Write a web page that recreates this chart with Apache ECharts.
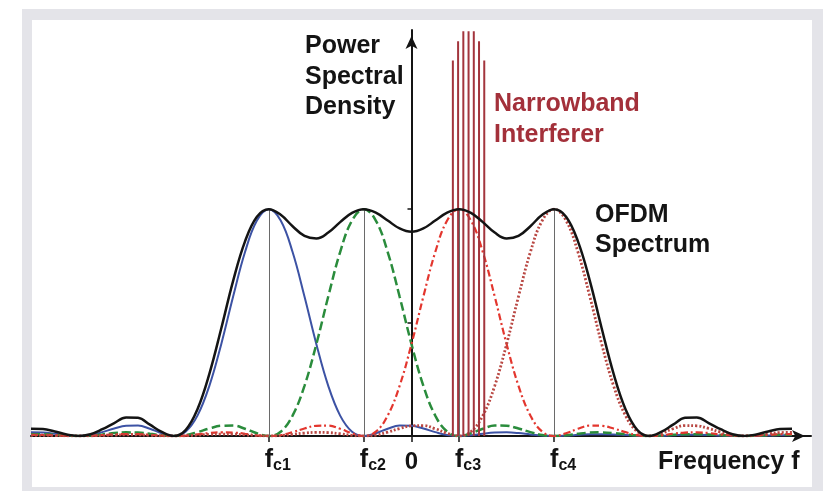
<!DOCTYPE html>
<html lang="en">
<head>
<meta charset="UTF-8">
<title>OFDM Spectrum</title>
<script src="https://cdn.jsdelivr.net/npm/echarts@6/dist/echarts.min.js"></script>
<style>
    * {
        padding: 0;
        margin: 0;
    }
    html, body {
        width: 823px;
        height: 491px;
        background: #fff;
    }
    #chart {
        width: 823px;
        height: 491px;
    }
</style>
</head>
<body>
<div id="chart"></div>
<script>
    // frequency, in units of the subcarrier spacing (0 = band centre)
    var freq = [-4, -3.875, -3.75, -3.625, -3.5, -3.375, -3.25, -3.125, -3, -2.875, -2.75, -2.625, -2.5,
        -2.375, -2.25, -2.125, -2, -1.875, -1.75, -1.625, -1.5, -1.375, -1.25, -1.125, -1, -0.875, -0.75,
        -0.625, -0.5, -0.375, -0.25, -0.125, 0, 0.125, 0.25, 0.375, 0.5, 0.625, 0.75, 0.875, 1, 1.125, 1.25,
        1.375, 1.5, 1.625, 1.75, 1.875, 2, 2.125, 2.25, 2.375, 2.5, 2.625, 2.75, 2.875, 3, 3.125, 3.25,
        3.375, 3.5, 3.625, 3.75, 3.875, 4];

    // power of each subcarrier (peak = 1)
    var sub1 = [0.016, 0.015, 0.010, 0.003, 0, 0.004, 0.017, 0.033, 0.045, 0.046, 0.032, 0.012, 0, 0.019,
        0.090, 0.221, 0.405, 0.615, 0.811, 0.950, 1, 0.950, 0.811, 0.615, 0.405, 0.221, 0.090, 0.019, 0,
        0.012, 0.032, 0.046, 0.045, 0.033, 0.017, 0.004, 0, 0.003, 0.010, 0.015, 0.016, 0.013, 0.007, 0.002,
        0, 0.002, 0.005, 0.008, 0.008, 0.007, 0.004, 0.001, 0, 0.001, 0.003, 0.005, 0.005, 0.004, 0.002,
        0.001, 0, 0.001, 0.002, 0.003, 0.003];
    var sub2 = [0.008, 0.008, 0.005, 0.002, 0, 0.002, 0.007, 0.013, 0.016, 0.015, 0.010, 0.003, 0, 0.004,
        0.017, 0.033, 0.045, 0.046, 0.032, 0.012, 0, 0.019, 0.090, 0.221, 0.405, 0.615, 0.811, 0.950, 1,
        0.950, 0.811, 0.615, 0.405, 0.221, 0.090, 0.019, 0, 0.012, 0.032, 0.046, 0.045, 0.033, 0.017, 0.004,
        0, 0.003, 0.010, 0.015, 0.016, 0.013, 0.007, 0.002, 0, 0.002, 0.005, 0.008, 0.008, 0.007, 0.004,
        0.001, 0, 0.001, 0.003, 0.005, 0.005];
    var sub3 = [0.005, 0.005, 0.003, 0.001, 0, 0.001, 0.004, 0.007, 0.008, 0.008, 0.005, 0.002, 0, 0.002,
        0.007, 0.013, 0.016, 0.015, 0.010, 0.003, 0, 0.004, 0.017, 0.033, 0.045, 0.046, 0.032, 0.012, 0,
        0.019, 0.090, 0.221, 0.405, 0.615, 0.811, 0.950, 1, 0.950, 0.811, 0.615, 0.405, 0.221, 0.090, 0.019,
        0, 0.012, 0.032, 0.046, 0.045, 0.033, 0.017, 0.004, 0, 0.003, 0.010, 0.015, 0.016, 0.013, 0.007,
        0.002, 0, 0.002, 0.005, 0.008, 0.008];
    var sub4 = [0.003, 0.003, 0.002, 0.001, 0, 0.001, 0.002, 0.004, 0.005, 0.005, 0.003, 0.001, 0, 0.001,
        0.004, 0.007, 0.008, 0.008, 0.005, 0.002, 0, 0.002, 0.007, 0.013, 0.016, 0.015, 0.010, 0.003, 0,
        0.004, 0.017, 0.033, 0.045, 0.046, 0.032, 0.012, 0, 0.019, 0.090, 0.221, 0.405, 0.615, 0.811, 0.950,
        1, 0.950, 0.811, 0.615, 0.405, 0.221, 0.090, 0.019, 0, 0.012, 0.032, 0.046, 0.045, 0.033, 0.017,
        0.004, 0, 0.003, 0.010, 0.015, 0.016];
    // total OFDM spectrum
    var ofdm = [0.032, 0.031, 0.020, 0.007, 0, 0.008, 0.030, 0.057, 0.082, 0.080, 0.050, 0.018, 0, 0.026,
        0.118, 0.274, 0.474, 0.684, 0.858, 0.967, 1, 0.975, 0.925, 0.882, 0.871, 0.897, 0.943, 0.984, 1,
        0.985, 0.950, 0.915, 0.900, 0.915, 0.950, 0.985, 1, 0.984, 0.943, 0.897, 0.871, 0.882, 0.925, 0.975,
        1, 0.967, 0.858, 0.684, 0.474, 0.274, 0.118, 0.026, 0, 0.018, 0.050, 0.080, 0.082, 0.057, 0.030,
        0.008, 0, 0.007, 0.020, 0.031, 0.032];

    // narrowband interferer lines
    var nbFreq = [0.435, 0.49, 0.545, 0.60, 0.655, 0.71, 0.765];
    var nbPower = [1.655, 1.74, 1.785, 1.785, 1.785, 1.74, 1.655];

    // x axis ticks
    var tickValues = [-1.5, -0.5, 0, 0.5, 1.5];
    var tickMain = ['f', 'f', '0', 'f', 'f'];
    var tickSub = ['c1', 'c2', '', 'c3', 'c4'];
    var carriers = [-1.5, -0.5, 0.5, 1.5];

    var font = 'Liberation Sans, Arial, Helvetica, sans-serif';
    var ink = '#141414';

    function curve(values, color, width, dash, z) {
        return {
            type: 'line',
            data: freq.map(function (f, i) { return [f, values[i]]; }),
            smooth: 0.4,
            symbol: 'none',
            silent: true,
            z: z,
            lineStyle: { color: color, width: width, type: dash }
        };
    }

    var chart = echarts.init(document.getElementById('chart'));
    var option = {
        animation: false,
        grid: { left: 31, right: 12, top: 30, bottom: 55, outerBoundsMode: 'none' },
        xAxis: {
            type: 'value',
            min: -4,
            max: 4.2,
            splitLine: { show: false },
            axisLine: {
                show: true,
                lineStyle: { color: ink, width: 2 },
                symbol: ['none', 'arrow'],
                symbolSize: [9, 13],
                symbolOffset: [0, -6]
            },
            axisTick: {
                show: true,
                customValues: tickValues,
                length: 6,
                lineStyle: { color: ink, width: 1.5 }
            },
            axisLabel: {
                customValues: tickValues,
                margin: 10,
                formatter: function (v) {
                    var i = tickValues.indexOf(v);
                    if (i < 0) return '';
                    if (!tickSub[i]) return '{z|' + tickMain[i] + '}';
                    return '{p|}{f|' + tickMain[i] + '}{s|' + tickSub[i] + '}';
                },
                rich: {
                    p: { width: 18, lineHeight: 28 },
                    f: { fontSize: 25, fontWeight: 'bold', fontFamily: font, color: ink, lineHeight: 28 },
                    s: { fontSize: 16, fontWeight: 'bold', fontFamily: font, color: ink, lineHeight: 28, padding: [12, 0, 0, 0] },
                    z: { fontSize: 24, fontWeight: 'bold', fontFamily: font, color: ink, lineHeight: 28, padding: [4, 0, 0, 0] }
                }
            }
        },
        yAxis: {
            type: 'value',
            min: 0,
            max: 1.79,
            splitLine: { show: false },
            axisLabel: { show: false },
            axisLine: {
                show: true,
                onZero: true,
                lineStyle: { color: ink, width: 2 },
                symbol: ['none', 'arrow'],
                symbolSize: [9, 13],
                symbolOffset: [0, -6]
            },
            axisTick: {
                show: true,
                customValues: [0.5, 1],
                length: 4,
                lineStyle: { color: ink, width: 1.5 }
            }
        },
        graphic: [
            { type: 'rect', z: -10, shape: { x: 22, y: 9, width: 801, height: 482 }, style: { fill: '#e4e4e9' } },
            { type: 'rect', z: -9, shape: { x: 32, y: 20, width: 780, height: 467 }, style: { fill: '#ffffff' } },
            {
                type: 'text', x: 305, y: 31, z: 50,
                style: { text: 'Power\nSpectral\nDensity', font: 'bold 25px ' + font, lineHeight: 30.5, fill: ink, verticalAlign: 'top' }
            },
            {
                type: 'text', x: 494, y: 89, z: 50,
                style: { text: 'Narrowband\nInterferer', font: 'bold 25px ' + font, lineHeight: 31, fill: '#a3303a', verticalAlign: 'top' }
            },
            {
                type: 'text', x: 595, y: 200, z: 50,
                style: { text: 'OFDM\nSpectrum', font: 'bold 25px ' + font, lineHeight: 30, fill: ink, verticalAlign: 'top' }
            },
            {
                type: 'text', x: 658, y: 462, z: 50,
                style: { text: 'Frequency f', font: 'bold 25px ' + font, fill: ink, verticalAlign: 'middle' }
            }
        ],
        series: [
            curve(sub1, '#3c52a4', 2, 'solid', 3),
            curve(sub2, '#2a8c3c', 2.5, [9, 4], 3),
            curve(sub3, '#e3362e', 2.2, [7, 3, 2, 3], 3),
            curve(sub4, '#b94843', 2.8, [2, 2], 3),
            {
                type: 'bar',
                data: nbFreq.map(function (f, i) { return [f, nbPower[i]]; }),
                barWidth: 2,
                clip: false,
                silent: true,
                z: 4,
                itemStyle: { color: '#a3353d' }
            },
            {
                type: 'line',
                data: freq.map(function (f, i) { return [f, ofdm[i]]; }),
                smooth: 0.4,
                symbol: 'none',
                silent: true,
                z: 5,
                lineStyle: { color: ink, width: 2.5 },
                markLine: {
                    silent: true,
                    symbol: 'none',
                    label: { show: false },
                    lineStyle: { color: '#6a6a6a', width: 1, type: 'solid' },
                    data: carriers.map(function (c) { return [{ coord: [c, 0] }, { coord: [c, 1] }]; })
                }
            }
        ]
    };
    chart.setOption(option);
</script>
</body>
</html>
